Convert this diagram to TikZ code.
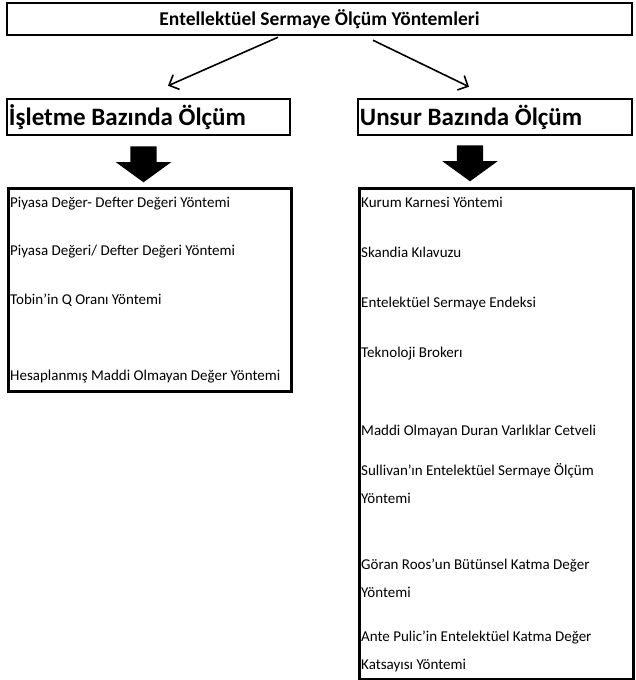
\documentclass[tikz,border=0pt]{standalone}
\usepackage{fontspec}
\setmainfont{Carlito}
\usetikzlibrary{arrows.meta, positioning, shapes.arrows, calc}
\tikzset{
  box/.style={draw=black, rectangle, line width=2.5pt, inner sep=0pt, fill=white},
  headbox/.style={box, minimum height=36pt},
  headtext/.style={anchor=west, inner sep=0pt, font=\bfseries\fontsize{25}{29}\selectfont},
  listbox/.style={box, anchor=north west},
  item/.style={anchor=base west, inner sep=0pt, font=\fontsize{15}{28}\selectfont, align=left},
  arrow/.style={-{Straight Barb[length=8pt, width=16pt]}, line width=1.6pt, draw=black},
  fatarrow/.style={single arrow, fill=black, draw=none, shape border rotate=270, minimum height=35pt, minimum width=55pt, single arrow head extend=14.5pt, single arrow tip angle=108, inner sep=13pt}
}

\begin{document}
\begin{tikzpicture}[x=1pt, y=-1pt]
\useasboundingbox (0,0) rectangle (635,680);

\node[box, font=\bfseries\fontsize{19.5}{24}\selectfont, minimum width=625pt, minimum height=32pt] (title) at (319.5,19) {Entellektüel Sermaye Ölçüm Yöntemleri};

\node[headbox, minimum width=283pt] (isletme) at (148.5,117) {};
\node[headtext] (isletmeText) at ([xshift=3pt]isletme.west) {İşletme Bazında Ölçüm};
\node[headbox, minimum width=274pt] (unsur) at (495,117) {};
\node[headtext] (unsurText) at ([xshift=3pt]unsur.west) {Unsur Bazında Ölçüm};

\draw[arrow] ([xshift=-41.5pt, yshift=-1pt]title.south) -- ([xshift=19.5pt, yshift=12pt]isletme.north);
\draw[arrow] ([xshift=53.5pt, yshift=-4pt]title.south) -- ([xshift=-26pt, yshift=11pt]unsur.north);

\node[fatarrow] (downL) at (143.5,159.5) {};
\node[fatarrow] (downR) at (470,158.5) {};

\node[listbox, minimum width=283pt, minimum height=203pt] (listL) at (7,187) {};
\node[listbox, minimum width=274pt, minimum height=491pt] (listR) at (358,187) {};

% isletme bazinda
\node[item] (l1) at (10,207) {Piyasa Değer- Defter Değeri Yöntemi};
\node[item] (l2) at (10,255) {Piyasa Değeri/ Defter Değeri Yöntemi};
\node[item] (l3) at (10,304) {Tobin'in Q Oranı Yöntemi};
\node[item] (l4) at (10,380) {Hesaplanmış Maddi Olmayan Değer Yöntemi};

% unsur bazinda
\node[item] (r1) at (361,207) {Kurum Karnesi Yöntemi};
\node[item] (r2) at (361,257) {Skandia Kılavuzu};
\node[item] (r3) at (361,307) {Entelektüel Sermaye Endeksi};
\node[item] (r4) at (361,357) {Teknoloji Brokerı};
\node[item] (r5) at (361,435) {Maddi Olmayan Duran Varlıklar Cetveli};
\node[item] (r6) at (361,503) {Sullivan'ın Entelektüel Sermaye Ölçüm\\Yöntemi};
\node[item] (r7) at (361,597) {Göran Roos'un Bütünsel Katma Değer\\Yöntemi};
\node[item] (r8) at (361,669) {Ante Pulic'in Entelektüel Katma Değer\\Katsayısı Yöntemi};

\end{tikzpicture}
\end{document}
